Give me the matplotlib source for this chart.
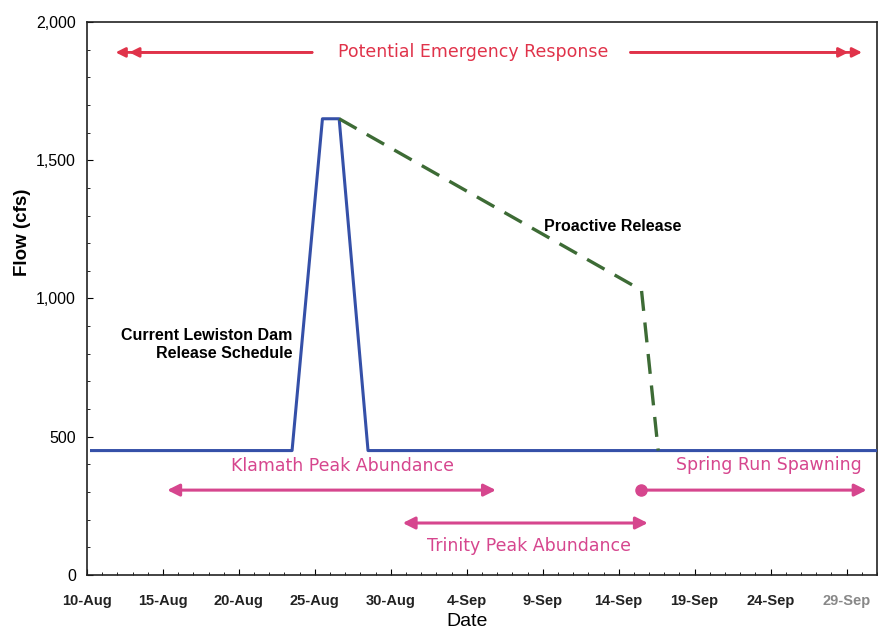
import matplotlib
matplotlib.use("Agg")
import matplotlib.pyplot as plt
from matplotlib.ticker import MultipleLocator

plt.rcParams['font.family'] = ['Liberation Sans', 'DejaVu Sans']

# Data: days after 10-Aug
tick_days = [0, 5, 10, 15, 20, 25, 30, 35, 40, 45, 50]
tick_labels = ['10-Aug', '15-Aug', '20-Aug', '25-Aug', '30-Aug', '4-Sep',
               '9-Sep', '14-Sep', '19-Sep', '24-Sep', '29-Sep']

current_days = [0.3, 13.5, 15.5, 16.6, 18.5, 52.0]
current_flow = [450, 450, 1650, 1650, 450, 450]

proactive_days = [16.6, 36.5, 37.6]
proactive_flow = [1650, 1030, 450]

yticks = [0, 500, 1000, 1500, 2000]
ytick_labels = ['0', '500', '1,000', '1,500', '2,000']

# Period arrows: (start day, end day, flow level)
emergency = (1.7, 51.2, 1890)
klamath = (5.1, 27.1, 307)
trinity = (20.6, 37.1, 188)
spring = (36.5, 51.5, 307)

fig = plt.figure(figsize=(8.82, 6.28), dpi=100)
ax = fig.add_axes([0.0986, 0.0844, 0.8957, 0.8806])

ax.plot(current_days, current_flow, color='#3550a8', lw=2.2, zorder=3)
ax.plot(proactive_days, proactive_flow, color='#3d6b35', lw=2.4,
        dashes=(6, 3.5), zorder=4)

ax.set_xlim(0, 52)
ax.set_ylim(0, 2000)
ax.set_xticks(tick_days)
ax.set_xticklabels(tick_labels, fontsize=10.5, fontweight='bold', color='#222222')
ax.get_xticklabels()[-1].set_color('#888888')
ax.set_yticks(yticks)
ax.set_yticklabels(ytick_labels, fontsize=11.5)
ax.xaxis.set_minor_locator(MultipleLocator(1))
ax.yaxis.set_minor_locator(MultipleLocator(100))
ax.tick_params(which='both', direction='in')
ax.tick_params(which='major', length=4)
ax.tick_params(axis='x', which='major', pad=14)
ax.tick_params(which='minor', length=2)
ax.tick_params(axis='y', which='major', pad=8)
for s in ax.spines.values():
    s.set_linewidth(1.2)
    s.set_color('#222222')

ax.set_ylabel('Flow (cfs)', fontsize=13.5, fontweight='bold')
ax.yaxis.set_label_coords(-0.071, 0.62)
ax.set_xlabel('Date', fontsize=14)
ax.xaxis.set_label_coords(0.481, -0.068)

red = '#e0334a'
pink = '#d6468e'
lab = dict(fontsize=12.5, family=['DejaVu Sans'], ha='center', va='center')

# Potential Emergency Response
s, e, y = emergency
for off in (0, 0.9):
    ax.annotate('', xy=(s + off, y), xytext=(15.0, y),
                arrowprops=dict(arrowstyle='-|>', color=red, lw=2, mutation_scale=14))
    ax.annotate('', xy=(e - off, y), xytext=(35.6, y),
                arrowprops=dict(arrowstyle='-|>', color=red, lw=2, mutation_scale=14))
ax.text(25.4, y, 'Potential Emergency Response', color=red, **lab)

# Klamath
s, e, y = klamath
ax.annotate('', xy=(s, y), xytext=(e, y),
            arrowprops=dict(arrowstyle='<|-|>', color=pink, lw=2.2, mutation_scale=18))
ax.text(16.8, 394, 'Klamath Peak Abundance', color=pink, **lab)

# Trinity
s, e, y = trinity
ax.annotate('', xy=(s, y), xytext=(e, y),
            arrowprops=dict(arrowstyle='<|-|>', color=pink, lw=2.2, mutation_scale=18))
ax.text(29.1, 104, 'Trinity Peak Abundance', color=pink, **lab)

# Spring run
s, e, y = spring
ax.annotate('', xy=(e, y), xytext=(s, y),
            arrowprops=dict(arrowstyle='-|>', color=pink, lw=2.2, mutation_scale=18))
ax.plot([s], [y], marker='o', ms=8, color=pink, zorder=5)
ax.text(44.9, 397, 'Spring Run Spawning', color=pink, **lab)

ax.text(13.5, 832, 'Current Lewiston Dam\nRelease Schedule', fontsize=11.5,
        fontweight='bold', ha='right', va='center', linespacing=1.25)
ax.text(30.1, 1262, 'Proactive Release', fontsize=11.5, fontweight='bold',
        ha='left', va='center')

fig.savefig('out.png', dpi=100)
